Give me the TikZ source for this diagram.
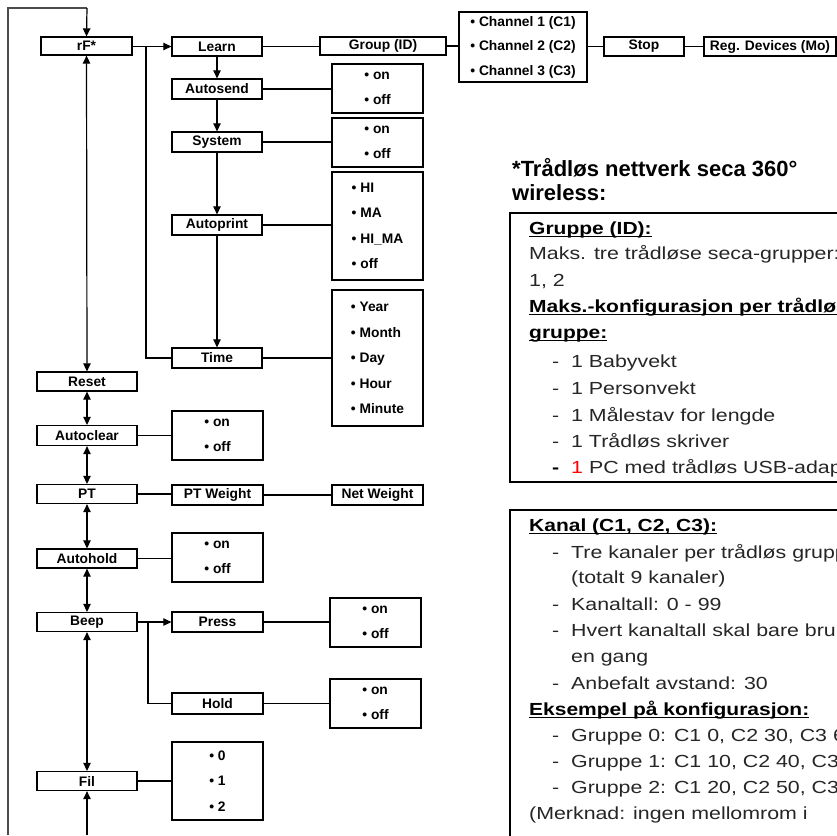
\documentclass[tikz,border=0pt]{standalone}
\usepackage{fontspec}
\setmainfont{Liberation Sans}
\newfontfamily\bodyfont[FakeStretch=1.22]{Liberation Sans}
\newfontfamily\bodyboldfont[FakeStretch=1.2]{Liberation Sans}
\usetikzlibrary{arrows.meta}
\newcommand\myul[1]{\setbox0\hbox{#1}\rlap{\rule[-3.2pt]{\wd0}{1.3pt}}\box0}
\newcommand\dsh{\makebox[19pt][l]{-}}
\tikzset{
  dbox/.style={draw, line width=1.3pt, inner sep=0pt, font=\fontsize{13.8}{16}\selectfont\bfseries},
  obox/.style={draw, line width=1.3pt, inner sep=0pt, align=left, font=\fontsize{13.8}{25.5}\selectfont\bfseries},
  conn/.style={line width=1.2pt},
  arr/.style={line width=1.2pt, -{Triangle[length=8pt,width=7.5pt]}},
  darr/.style={line width=1.2pt, {Triangle[length=8pt,width=7.5pt]}-{Triangle[length=8pt,width=7.5pt]}},
  body/.style={anchor=base west, inner sep=0pt, text=black!85, font=\bodyfont\fontsize{17.5}{20}\selectfont},
  bhead/.style={anchor=base west, inner sep=0pt, font=\bodyboldfont\fontsize{17.5}{20}\selectfont\bfseries},
  title/.style={anchor=base west, inner sep=0pt, font=\fontsize{22}{24}\selectfont\bfseries},
}
\begin{document}
\begin{tikzpicture}[x=1pt,y=-1pt]
\useasboundingbox (0,0) rectangle (837,835);
\clip (0,0) rectangle (837,835);
\fill[white] (0,0) rectangle (837,835);

% main column
\node[dbox, minimum width=91pt, minimum height=18pt] (rf) at (86.5,46) {rF*};
\node[dbox, minimum width=100pt, minimum height=19pt] (reset) at (87,381.5) {Reset};
\node[dbox, minimum width=100pt, minimum height=20pt] (aclr) at (87,435.5) {Autoclear};
\node[dbox, minimum width=100pt, minimum height=19pt] (pt) at (87,494) {PT};
\node[dbox, minimum width=100pt, minimum height=19pt] (ahold) at (87,558.5) {Autohold};
\node[dbox, minimum width=100pt, minimum height=19pt] (beep) at (87,622) {Beep};
\node[dbox, minimum width=100pt, minimum height=19pt] (fil) at (87,781) {Fil};

% second column
\node[dbox, minimum width=90pt, minimum height=19pt] (learn) at (217,46.5) {Learn};
\node[dbox, minimum width=90pt, minimum height=20pt] (asend) at (217,89) {Autosend};
\node[dbox, minimum width=90pt, minimum height=20pt] (sys) at (217,142) {System};
\node[dbox, minimum width=90pt, minimum height=20pt] (aprint) at (217,225) {Autoprint};
\node[dbox, minimum width=90pt, minimum height=20pt] (time) at (217,358) {Time};
\node[obox, minimum width=91pt, minimum height=49pt] (aclro) at (217.5,435.5) {• on\\• off};
\node[dbox, minimum width=91pt, minimum height=20pt] (ptw) at (217.5,495) {PT Weight};
\node[obox, minimum width=91pt, minimum height=49pt] (aholdo) at (217.5,557.5) {• on\\• off};
\node[dbox, minimum width=91pt, minimum height=20pt] (press) at (217.5,622) {Press};
\node[dbox, minimum width=91pt, minimum height=21pt] (hold) at (217.5,703.5) {Hold};
\node[obox, minimum width=91pt, minimum height=78pt] (filo) at (217.5,781) {• 0\\• 1\\• 2};

% third column
\node[dbox, minimum width=126pt, minimum height=18pt] (grp) at (383,46) {Group (ID)};
\node[obox, minimum width=91pt, minimum height=49pt] (asendo) at (377.5,88.5) {• on\\• off};
\node[obox, minimum width=91pt, minimum height=49pt] (syso) at (377.5,142.5) {• on\\• off};
\node[obox, minimum width=91pt, minimum height=108pt] (aprinto) at (377.5,226) {• HI\\• MA\\• HI\_MA\\• off};
\node[obox, minimum width=91pt, minimum height=136pt] (timeo) at (377.5,358) {• Year\\• Month\\• Day\\• Hour\\• Minute};
\node[dbox, minimum width=91pt, minimum height=20pt] (netw) at (377.5,495) {Net Weight};
\node[obox, minimum width=91pt, minimum height=49pt] (presso) at (375.5,622.5) {• on\\• off};
\node[obox, minimum width=91pt, minimum height=49pt] (holdo) at (375.5,703.5) {• on\\• off};

% top row
\node[obox, minimum width=128pt, minimum height=70pt, font=\fontsize{13.8}{24.5}\selectfont\bfseries] (chan) at (523,47) {• Channel 1 (C1)\\• Channel 2 (C2)\\• Channel 3 (C3)};
\node[dbox, minimum width=80pt, minimum height=19pt] (stop) at (644,46.5) {Stop};
\node[dbox, minimum width=132pt, minimum height=19pt] (reg) at (770,46.5) {Reg. Devices (Mo)};

% loop
\coordinate (lb) at (8,835);
\coordinate (lt) at (8,8);
\coordinate (fb) at (87,835);
\draw[line width=1.2pt, black!70] (lb) -- (lt) -- (87,8);
\draw[arr] (87,8) -- (rf.north);
\draw[arr] (fb) -- (fil.south);

% main column arrows
\draw[darr] (rf.south) -- (reset.north);
\draw[darr] (reset.south) -- (aclr.north);
\draw[darr] (aclr.south) -- (pt.north);
\draw[darr] (pt.south) -- (ahold.north);
\draw[darr] (ahold.south) -- (beep.north);
\draw[darr] (beep.south) -- (fil.north);

% rF branch
\coordinate (br) at (146,46.5);
\draw[arr] (rf.east |- br) -- (learn.west);
\draw[conn] (br) |- (time.west);
\draw[arr] (learn.south) -- (asend.north);
\draw[arr] (asend.south) -- (sys.north);
\draw[arr] (sys.south) -- (aprint.north);
\draw[arr] (aprint.south) -- (time.north);

\draw[conn] (learn.east) -- (grp.west |- learn.east);
\draw[conn] (grp.east) -- (chan.west |- grp.east);
\draw[conn] (chan.east |- stop.west) -- (stop.west);
\draw[conn] (stop.east) -- (reg.west);
\draw[conn] (asend.east) -- (asendo.west |- asend.east);
\draw[conn] (sys.east) -- (syso.west |- sys.east);
\draw[conn] (aprint.east) -- (aprinto.west |- aprint.east);
\draw[conn] (time.east) -- (timeo.west |- time.east);

\draw[conn] (aclr.east) -- (aclro.west |- aclr.east);
\draw[conn] (pt.east) -- (ptw.west |- pt.east);
\draw[conn] (ptw.east) -- (netw.west);
\draw[conn] (ahold.east) -- (aholdo.west |- ahold.east);

% beep branch
\coordinate (bb) at (148,622);
\draw[arr] (beep.east) -- (press.west);
\draw[conn] (bb) |- (hold.west);
\draw[conn] (press.east) -- (presso.west |- press.east);
\draw[conn] (hold.east) -- (holdo.west |- hold.east);
\draw[conn] (fil.east) -- (filo.west |- fil.east);

% notes
\node[title] (ti1) at (512,176) {*Trådløs nettverk seca 360°};
\node[title] (ti2) at (512,200) {wireless:};

\draw[line width=1.4pt] (510,213) rectangle (900,482);
\node[bhead] (a1) at (529,234) {\myul{Gruppe (ID):}};
\node[body] (a2) at (529,259) {Maks. tre trådløse seca-grupper: 0,};
\node[body] (a3) at (529,286) {1, 2};
\node[bhead] (a4) at (529,312) {\myul{Maks.-konfigurasjon per trådløs}};
\node[bhead] (a5) at (529,338) {\myul{gruppe:}};
\node[body] (a6) at (552,367) {\dsh 1 Babyvekt};
\node[body] (a7) at (552,394) {\dsh 1 Personvekt};
\node[body] (a8) at (552,421) {\dsh 1 Målestav for lengde};
\node[body] (a9) at (552,447) {\dsh 1 Trådløs skriver};
\node[body] (a10) at (552,473) {\makebox[19pt][l]{\textbf{\color{black}-}}\textcolor{red}{1} PC med trådløs USB-adapter};

\draw[line width=1.4pt] (510,510) rectangle (900,900);
\node[bhead] (b1) at (529,531) {\myul{Kanal (C1, C2, C3):}};
\node[body] (b2) at (552,558) {\dsh Tre kanaler per trådløs gruppe};
\node[body] (b3) at (571,583) {(totalt 9 kanaler)};
\node[body] (b4) at (552,610) {\dsh Kanaltall: 0 - 99};
\node[body] (b5) at (552,636) {\dsh Hvert kanaltall skal bare brukes};
\node[body] (b6) at (571,662) {en gang};
\node[body] (b7) at (552,689) {\dsh Anbefalt avstand: 30};
\node[bhead] (b8) at (529,715) {\myul{Eksempel på konfigurasjon:}};
\node[body] (b9) at (552,741) {\dsh Gruppe 0: C1 0, C2 30, C3 60};
\node[body] (b10) at (552,767) {\dsh Gruppe 1: C1 10, C2 40, C3 70};
\node[body] (b11) at (552,793) {\dsh Gruppe 2: C1 20, C2 50, C3 80};
\node[body] (b12) at (529,819) {(Merknad: ingen mellomrom i};
\end{tikzpicture}
\end{document}
